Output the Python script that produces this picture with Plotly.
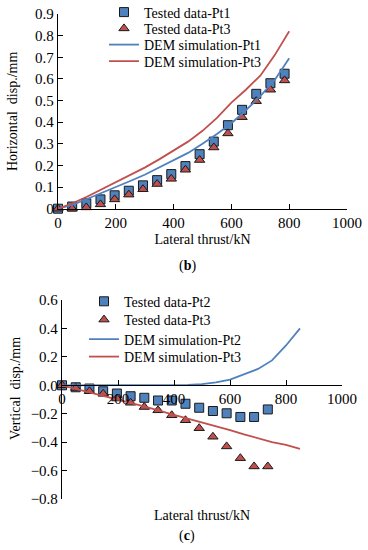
import plotly.graph_objects as go

W, H = 368, 550
FONT = "Liberation Serif, Times New Roman, serif"

# ---------------- (b) horizontal displacement ----------------
thrust_b = [0, 49, 98, 147, 196, 245, 294, 343, 392, 441, 490, 539, 588, 637, 686, 735, 784]
tested_pt1_b = [0.0, 0.01, 0.025, 0.043, 0.062, 0.083, 0.108, 0.132, 0.16, 0.197, 0.252,
                0.31, 0.386, 0.457, 0.531, 0.58, 0.624]
tested_pt3_b = [0.0, 0.0, 0.006, 0.02, 0.043, 0.065, 0.09, 0.114, 0.138, 0.18, 0.225,
                0.283, 0.348, 0.423, 0.497, 0.55, 0.593]
dem_x_b = [0, 50, 100, 150, 200, 250, 300, 350, 400, 450, 500, 550, 600, 650, 700, 750, 800]
dem_pt1_b = [0.0, 0.018, 0.045, 0.072, 0.1, 0.128, 0.157, 0.19, 0.222, 0.258, 0.3, 0.345,
             0.395, 0.455, 0.52, 0.595, 0.695]
dem_pt3_b = [0.0, 0.025, 0.055, 0.088, 0.122, 0.155, 0.19, 0.228, 0.268, 0.31, 0.36, 0.42,
             0.49, 0.55, 0.615, 0.71, 0.82]

# ---------------- (c) vertical displacement ----------------
thrust_c = [0, 49, 98, 147, 196, 245, 294, 343, 392, 441, 490, 539, 588, 637, 686, 735]
tested_pt2_c = [0.0, -0.014, -0.023, -0.042, -0.058, -0.077, -0.088, -0.107, -0.107, -0.13,
                -0.158, -0.181, -0.197, -0.223, -0.223, -0.17]
tested_pt3_c = [0.0, -0.019, -0.042, -0.06, -0.093, -0.123, -0.153, -0.176, -0.211, -0.246,
                -0.302, -0.362, -0.43, -0.513, -0.571, -0.571]
dem_x_c = [0, 100, 200, 300, 400, 450, 500, 550, 600, 650, 700, 750, 800, 850]
dem_pt2_c = [0.0, 0.0, 0.0, 0.0, 0.001, 0.003, 0.008, 0.02, 0.04, 0.075, 0.115, 0.175, 0.28, 0.4]
dem_pt3_c = [0.0, -0.05, -0.1, -0.152, -0.208, -0.234, -0.26, -0.288, -0.315, -0.345, -0.375,
             -0.4, -0.42, -0.447]

x_ticks = [0, 200, 400, 600, 800, 1000]

BLUE = "#4F81BD"
RED = "#C0504D"
EDGE = "#1a1a1a"

fig = go.Figure()

def add_panel(xa, ya, legs, tx, s1, n1, s2, n2, lx, l1, ln1, l2, ln2):
    fig.add_trace(go.Scatter(x=tx, y=s1, mode="markers", name=n1, xaxis=xa, yaxis=ya, legend=legs[0],
                             marker=dict(symbol="square", size=9, color=BLUE, line=dict(color=EDGE, width=1)),
                             cliponaxis=False, showlegend=True))
    fig.add_trace(go.Scatter(x=tx, y=s2, mode="markers", name=n2, xaxis=xa, yaxis=ya, legend=legs[1],
                             marker=dict(symbol="triangle-up", size=9, color=RED, line=dict(color=EDGE, width=1)),
                             cliponaxis=False, showlegend=True))
    fig.add_trace(go.Scatter(x=lx, y=l1, mode="lines", name=ln1, xaxis=xa, yaxis=ya, legend=legs[2],
                             line=dict(color=BLUE, width=1.8), cliponaxis=False, showlegend=True))
    fig.add_trace(go.Scatter(x=lx, y=l2, mode="lines", name=ln2, xaxis=xa, yaxis=ya, legend=legs[3],
                             line=dict(color=RED, width=1.8), cliponaxis=False, showlegend=True))

add_panel("x", "y", ["legend", "legend2", "legend3", "legend4"],
          thrust_b, tested_pt1_b, "Tested data-Pt1", tested_pt3_b, "Tested data-Pt3",
          dem_x_b, dem_pt1_b, "DEM simulation-Pt1", dem_pt3_b, "DEM simulation-Pt3")
add_panel("x2", "y2", ["legend5", "legend6", "legend7", "legend8"],
          thrust_c, tested_pt2_c, "Tested data-Pt2", tested_pt3_c, "Tested data-Pt3",
          dem_x_c, dem_pt2_c, "DEM simulation-Pt2", dem_pt3_c, "DEM simulation-Pt3")

tickfont = dict(family=FONT, size=15, color="black")
titlefont = dict(family=FONT, size=14, color="black")
axis_common = dict(showline=True, linecolor="black", linewidth=1.3, ticks="inside", ticklen=5,
                   tickcolor="black", tickwidth=1.2, showgrid=False, zeroline=False, tickfont=tickfont)

# panel domains (paper fractions)
xb = [58 / W, 347 / W]
yb = [1 - 208.7 / H, 1 - 14 / H]
xc = [62 / W, 342 / W]
yc = [1 - 499 / H, 1 - 300 / H]
yc_range = [-0.8, 0.6]
zero_pos = yc[0] + (0 - yc_range[0]) / (yc_range[1] - yc_range[0]) * (yc[1] - yc[0])

legend_font = dict(family=FONT, size=14, color="black")
def leg(xpx, ypx):
    return dict(x=xpx / W, y=1 - ypx / H, xanchor="left", yanchor="middle", visible=True,
                bgcolor="rgba(0,0,0,0)", font=legend_font, borderwidth=0)

fig.update_layout(
    width=W, height=H, margin=dict(l=0, r=0, t=0, b=0, autoexpand=False),
    showlegend=True,
    paper_bgcolor="white", plot_bgcolor="white",
    font=dict(family=FONT, color="black"),
    xaxis=dict(domain=xb, range=[0, 1000], tickvals=x_ticks, anchor="y",
               title=dict(text="Lateral thrust/kN", font=titlefont, standoff=4), **axis_common),
    yaxis=dict(domain=yb, range=[0, 0.9], dtick=0.1, anchor="x",
               title=dict(text="Horizontal\u00a0\u00a0disp./mm", font=titlefont, standoff=14), **axis_common),
    xaxis2=dict(domain=xc, range=[0, 1000], tickvals=x_ticks, anchor="free", position=zero_pos,
                **axis_common),
    yaxis2=dict(domain=yc, range=yc_range, dtick=0.2, tickformat=".1f", anchor="x2", **axis_common),
    legend=leg(104, 12.5), legend2=leg(104, 28.8), legend3=leg(104, 45), legend4=leg(104, 61.5),
    legend5=leg(84, 301.7), legend6=leg(84, 320), legend7=leg(84, 339.5), legend8=leg(84, 357),
    annotations=[
        dict(text="(<b>b</b>)", x=187 / W, y=1 - 266 / H, xref="paper", yref="paper",
             showarrow=False, font=titlefont, xanchor="center", yanchor="middle"),
        dict(text="Vertical\u00a0\u00a0disp./mm", x=15 / W, y=1 - 389 / H, xref="paper", yref="paper",
             showarrow=False, font=titlefont, textangle=-90, xanchor="center", yanchor="middle"),
        dict(text="Lateral thrust/kN", x=202 / W, y=1 - 515 / H, xref="paper", yref="paper",
             showarrow=False, font=titlefont, xanchor="center", yanchor="middle"),
        dict(text="(<b>c</b>)", x=187 / W, y=1 - 536 / H, xref="paper", yref="paper",
             showarrow=False, font=titlefont, xanchor="center", yanchor="middle"),
    ],
)

fig.write_html("out.html", config={"displayModeBar": False},
               post_script="document.body.style.margin='0';")
